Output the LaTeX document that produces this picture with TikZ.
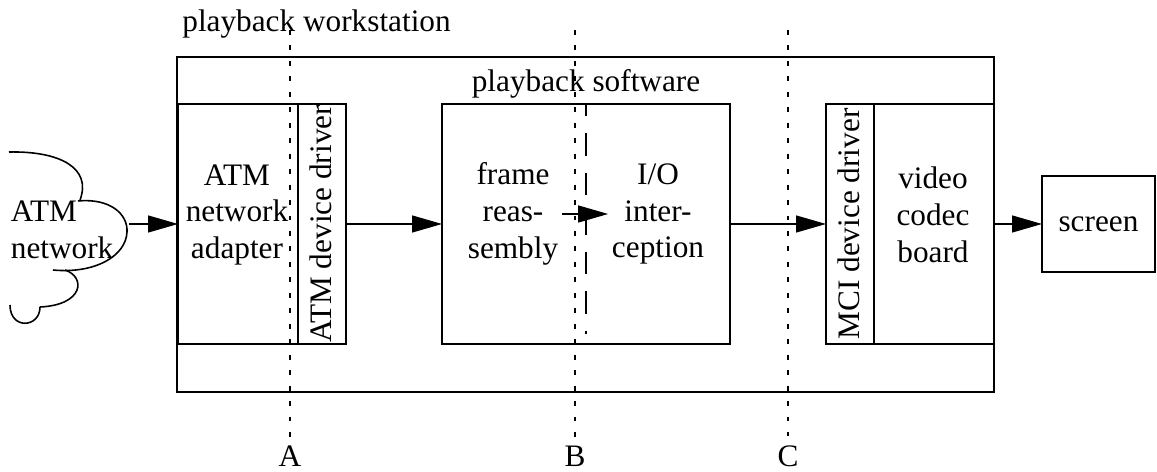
\documentclass[tikz,border=0pt]{standalone}
\usepackage{fontspec}
\setmainfont{Liberation Serif}
\usetikzlibrary{positioning, arrows.meta}

\tikzset{
  box/.style={draw, line width=0.9pt, inner sep=0pt, outer sep=0pt},
  txt/.style={align=center, inner sep=2pt, font=\fontsize{17.8pt}{21pt}\selectfont},
  cutline/.style={line width=0.75pt, dash pattern=on 2.8pt off 6pt},
  splitline/.style={line width=0.9pt, dash pattern=on 13pt off 9.5pt, dash phase=6pt},
  flow/.style={line width=0.75pt, -{Triangle[length=0.6cm, width=0.34cm]}},
  cloud/.style={line width=0.9pt},
}

\begin{document}
\begin{tikzpicture}[x=0.02cm, y=-0.02cm]
  \useasboundingbox (0,0) rectangle (1157,472);

  % Boxes
  \node[box, minimum width=16.34cm, minimum height=6.7cm] (ws) at (585.5,224.5) {};
  \node[box, minimum width=2.4cm, minimum height=4.8cm] (adapter) at (238,224) {};
  \node[box, minimum width=0.96cm, minimum height=4.8cm] (atmdrv) at (322,224) {};
  \node[box, minimum width=5.76cm, minimum height=4.8cm] (soft) at (586,224) {};
  \node[box, minimum width=0.96cm, minimum height=4.8cm] (mcidrv) at (850,224) {};
  \node[box, minimum width=2.4cm, minimum height=4.8cm] (codec) at (934,224) {};
  \node[box, txt, minimum width=2.26cm, minimum height=1.92cm] (screen) at (1098.5,224) {screen};

  % Texts
  \node[txt, anchor=base west] (wslabel) at (178.5,32) {playback workstation};
  \node[txt, anchor=base] (softlabel) at (586,92) {playback software};
  \node[txt, align=left, anchor=west] (net) at (7,230) {ATM\\network};
  \node[txt] (adaptertext) at (237,215) {ATM\\network\\adapter};
  \node[txt, rotate=90] (atmdrvtext) at (321,224) {ATM device driver};
  \node[txt] (frame) at (513,214) {frame\\reas-\\sembly};
  \node[txt] (io) at (658,214) {I/O\\inter-\\ception};
  \node[txt, rotate=90] (mcidrvtext) at (849,224) {MCI device driver};
  \node[txt] (codectext) at (933,215) {video\\codec\\board};

  % Cloud
  \coordinate (cloudout) at (129,224);
  \draw[cloud] (9,152) .. controls (60,151) and (92,168) .. (80,200);
  \draw[cloud] (78,201) .. controls (110,198) and (128,214) .. (127,232)
                        .. controls (126,256) and (95,274) .. (53,270);
  \draw[cloud] (65,270) .. controls (86,277) and (84,305) .. (40,307);
  \draw[cloud] (40,307) .. controls (40,328) and (10,330) .. (10,305);

  % Split inside the software box
  \coordinate (splittop) at (586,104);
  \coordinate (splitbot) at (586,334);
  \draw[splitline] (splittop) -- (splitbot);

  % Arrows
  \draw[flow] (cloudout) -- (adapter.west);
  \draw[flow] (atmdrv.east) -- (soft.west);
  \draw[flow] (frame) -- (io);
  \draw[flow] (soft.east) -- (mcidrv.west);
  \draw[flow] (codec.east) -- (screen.west);

  % Cut lines
  \foreach \n/\x in {A/290,B/575,C/788}{
    \coordinate (top\n) at (\x,30);
    \node[txt, inner sep=1pt] (\n) at (\x,456) {\n};
    \draw[cutline, shorten >=0.14cm] (top\n) -- (\n.north);
  }
\end{tikzpicture}
\end{document}
